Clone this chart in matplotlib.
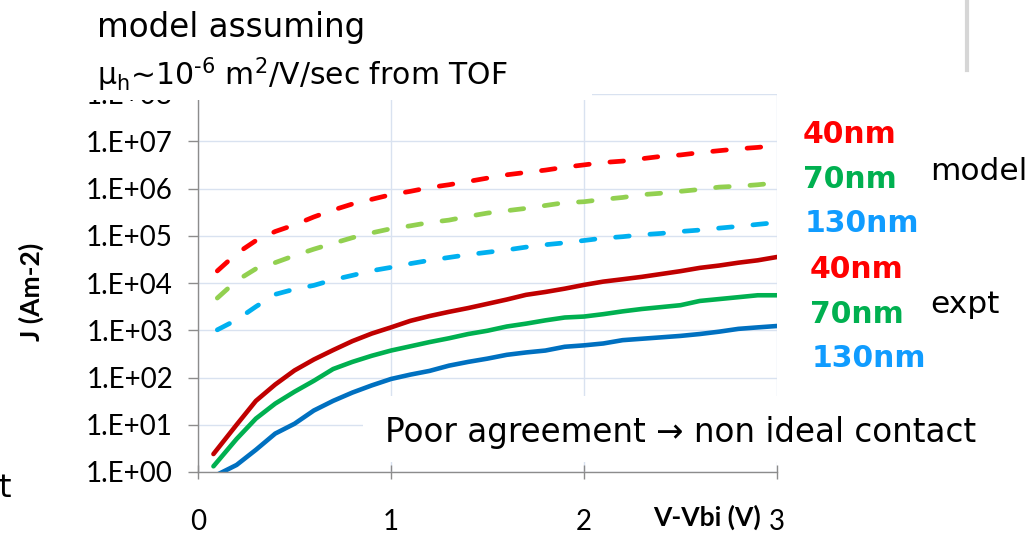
import numpy as np
import matplotlib
matplotlib.use("Agg")
import matplotlib.pyplot as plt
from matplotlib.ticker import FixedLocator, FuncFormatter, NullLocator
from matplotlib.patches import Rectangle
from matplotlib.lines import Line2D

W, H = 1034, 536

# ---- data: current density J (A m^-2) versus V - Vbi (V) ----
v_model = [0.1, 0.2, 0.3, 0.4, 0.5, 0.6, 0.7, 0.8, 0.9, 1.0,
           1.1, 1.2, 1.3, 1.4, 1.5, 1.6, 1.7, 1.8, 1.9, 2.0,
           2.1, 2.2, 2.3, 2.4, 2.5, 2.6, 2.7, 2.8, 2.9, 3.0]
j_model_40 = [1.8e4, 4.2e4, 7.9e4, 1.23e5, 1.7e5, 2.5e5, 3.5e5, 4.7e5, 5.9e5, 7.4e5,
              8.7e5, 1.05e6, 1.2e6, 1.41e6, 1.66e6, 1.95e6, 2.19e6, 2.45e6, 2.82e6, 3.16e6,
              3.55e6, 3.8e6, 4.27e6, 4.79e6, 5.13e6, 5.75e6, 6.31e6, 6.92e6, 7.41e6, 8.13e6]
j_model_70 = [4.8e3, 1.12e4, 2.0e4, 2.7e4, 3.8e4, 5.2e4, 6.9e4, 9.1e4, 1.15e5, 1.41e5,
              1.62e5, 1.91e5, 2.14e5, 2.57e5, 3.02e5, 3.39e5, 3.8e5, 4.37e5, 5.01e5, 5.25e5,
              5.89e5, 6.46e5, 7.41e5, 7.94e5, 8.71e5, 9.55e5, 1.07e6, 1.12e6, 1.2e6, 1.32e6]
j_model_130 = [1.02e3, 1.66e3, 3.16e3, 5.75e3, 7.4e3, 8.9e3, 1.17e4, 1.45e4, 1.82e4, 2.14e4,
               2.57e4, 3.02e4, 3.47e4, 3.98e4, 4.47e4, 5.01e4, 5.75e4, 6.46e4, 7.08e4, 7.94e4,
               8.91e4, 9.55e4, 1.05e5, 1.12e5, 1.23e5, 1.32e5, 1.45e5, 1.58e5, 1.74e5, 1.91e5]

v_expt = [0.08, 0.2, 0.3, 0.4, 0.5, 0.6, 0.7, 0.8, 0.9, 1.0,
          1.1, 1.2, 1.3, 1.4, 1.5, 1.6, 1.7, 1.8, 1.9, 2.0,
          2.1, 2.2, 2.3, 2.4, 2.5, 2.6, 2.7, 2.8, 2.9, 3.0]
j_expt_40 = [2.4, 10, 32, 71, 141, 240, 380, 589, 851, 1150,
             1580, 2000, 2450, 2950, 3630, 4470, 5620, 6460, 7590, 9120,
             1.07e4, 1.2e4, 1.35e4, 1.55e4, 1.78e4, 2.09e4, 2.34e4, 2.69e4, 3.02e4, 3.55e4]
j_expt_70 = [1.32, 5.0, 13.5, 28, 50, 85, 151, 214, 288, 372,
             457, 562, 676, 832, 977, 1200, 1380, 1620, 1860, 1950,
             2190, 2510, 2820, 3090, 3390, 4170, 4570, 5010, 5500, 5500]
j_expt_130 = [0.8, 1.41, 2.95, 6.5, 10.5, 20, 32, 48, 68, 93,
              115, 138, 178, 214, 251, 302, 339, 372, 447, 479,
              525, 617, 661, 708, 759, 832, 933, 1070, 1150, 1230]

x_ticks = [0, 1, 2, 3]
y_ticks = [1e0, 1e1, 1e2, 1e3, 1e4, 1e5, 1e6, 1e7, 1e8]

# ---- figure & axes ----
fig = plt.figure(figsize=(W / 100, H / 100), dpi=100)
fig.patch.set_facecolor("white")


def fx(px):
    return px / W


def fy(py):
    return 1 - py / H


ax_l, ax_r, ax_t, ax_b = 198, 777, 94, 472
ax = fig.add_axes([fx(ax_l), fy(ax_b), (ax_r - ax_l) / W, (ax_b - ax_t) / H])
ax.set_yscale("log")
ax.set_xlim(0, 3)
ax.set_ylim(1, 1e8)

grid_c = "#d9e2f0"
spine_c = "#8c8c8c"
for s in ("top", "right"):
    ax.spines[s].set_visible(False)
for s in ("left", "bottom"):
    ax.spines[s].set_color(spine_c)
    ax.spines[s].set_linewidth(1.0)

ax.xaxis.set_major_locator(FixedLocator(x_ticks))
ax.yaxis.set_major_locator(FixedLocator(y_ticks))
ax.yaxis.set_minor_locator(NullLocator())
ax.xaxis.set_major_formatter(FuncFormatter(lambda v, p: f"{v:.0f}"))
ax.yaxis.set_major_formatter(
    FuncFormatter(lambda v, p: f"1.E+{int(round(np.log10(v))):02d}"))
ax.grid(True, color=grid_c, linewidth=1.0)
ax.set_axisbelow(True)

ax.tick_params(axis="y", direction="out", length=7, width=1.0, color=spine_c,
               pad=11, labelsize=20)
ax.tick_params(axis="x", direction="inout", length=10, width=1.0, color=spine_c,
               pad=22, labelsize=20)
for lab in ax.get_xticklabels() + ax.get_yticklabels():
    lab.set_fontfamily("Lato")

# model curves (dashed)
dash = (0, (2.9, 4.4))
ax.plot(v_model, j_model_40, color="#ff0000", lw=3.4, ls=dash, dash_capstyle="round")
ax.plot(v_model, j_model_70, color="#92d050", lw=3.4, ls=dash, dash_capstyle="round")
ax.plot(v_model, j_model_130, color="#00b0f0", lw=3.4, ls=dash, dash_capstyle="round")

# experimental curves (solid)
ax.plot(v_expt, j_expt_40, color="#c00000", lw=3.3, solid_capstyle="round")
ax.plot(v_expt, j_expt_70, color="#00b050", lw=3.3, solid_capstyle="round")
ax.plot(v_expt, j_expt_130, color="#0070c0", lw=3.3, solid_capstyle="round")

# axis titles
fig.text(fx(31), fy(292), "J (Am-2)", rotation=90, ha="center", va="center",
         fontsize=19, fontweight="bold", family="Lato")
fig.text(fx(707), fy(517), "V-Vbi (V)", ha="center", va="center",
         fontsize=19, fontweight="bold", family="Lato")

# white text boxes over the plot
fig.add_artist(Rectangle((0, fy(100)), fx(592), 1 - fy(100), transform=fig.transFigure,
                         facecolor="white", edgecolor="none", zorder=5))
fig.add_artist(Rectangle((fx(363), fy(462)), fx(1000) - fx(363), fy(396) - fy(462),
                         transform=fig.transFigure, facecolor="white",
                         edgecolor="none", zorder=5))

txt = dict(family=["DejaVu Sans"], zorder=6)
fig.text(fx(97), fy(37), "model assuming", ha="left", va="baseline",
         fontsize=23.5, color="black", **txt)
fig.text(fx(97), fy(85),
         "\u03bc$_\\mathregular{h}$~10$^\\text{-6}$ m$^\\mathregular{2}$/V/sec from TOF",
         ha="left", va="baseline", fontsize=21.5, color="black", **txt)
fig.text(fx(385), fy(442), "Poor agreement \u2192 non ideal contact",
         ha="left", va="baseline", fontsize=23.5, color="black", **txt)

red_lab, green_lab, blue_lab = "#ff0000", "#00b050", "#109cff"
labels = [("40nm", red_lab, 803, 143), ("70nm", green_lab, 803, 188),
          ("130nm", blue_lab, 805, 232), ("40nm", red_lab, 810, 278),
          ("70nm", green_lab, 810, 323), ("130nm", blue_lab, 812, 367)]
for s, c, x, y in labels:
    fig.text(fx(x), fy(y), s, ha="left", va="baseline", fontsize=21.5,
             fontweight="bold", color=c, **txt)
fig.text(fx(930), fy(180), "model", ha="left", va="baseline", fontsize=22.5,
         color="black", **txt)
fig.text(fx(930), fy(313), "expt", ha="left", va="baseline", fontsize=22.5,
         color="black", **txt)
fig.text(fx(11), fy(497), "t", ha="right", va="baseline", fontsize=23,
         color="black", **txt)

# divider line at the top right
fig.add_artist(Line2D([fx(967), fx(967)], [fy(0), fy(70)], transform=fig.transFigure,
                      color="#d6d6d6", lw=3.0, zorder=6))

fig.savefig("out.png", dpi=100, facecolor="white")
